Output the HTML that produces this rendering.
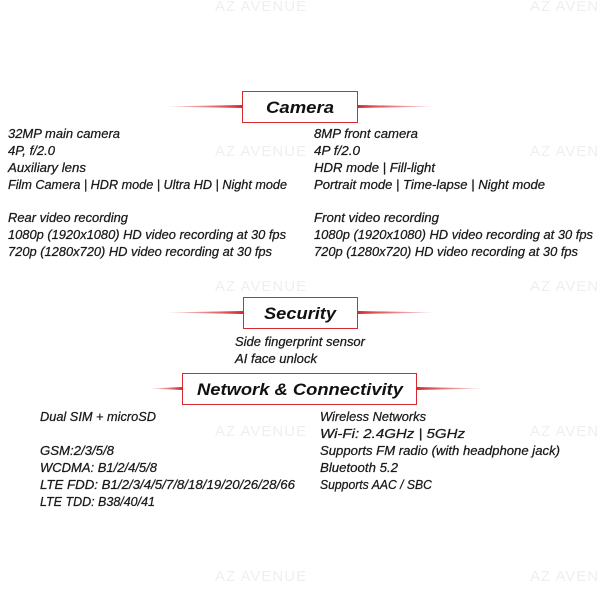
<!DOCTYPE html>
<html><head><meta charset="utf-8"><style>
html,body{margin:0;padding:0;background:#fff;width:600px;height:600px;overflow:hidden}
svg{display:block}
text{font-family:"Liberation Sans",sans-serif;font-style:italic;fill:#1a1a1a}
.t{font-size:12.5px;stroke:#1a1a1a;stroke-width:0.25}
.h{font-weight:bold;fill:#111}
.w text{font-size:15px;fill:#efefef;font-style:normal;letter-spacing:1px}
</style></head><body>
<svg width="600" height="600" viewBox="0 0 600 600" xmlns="http://www.w3.org/2000/svg">
<defs>
<linearGradient id="gl" x1="0" x2="1"><stop offset="0" stop-color="#d42a30" stop-opacity="0.1"/><stop offset="1" stop-color="#d42a30"/></linearGradient>
<linearGradient id="gr" x1="0" x2="1"><stop offset="0" stop-color="#d42a30"/><stop offset="1" stop-color="#d42a30" stop-opacity="0.1"/></linearGradient>
</defs>
<g class="w">
<text x="215" y="11">AZ AVENUE</text><text x="530" y="11">AZ AVENUE</text>
<text x="215" y="156">AZ AVENUE</text><text x="530" y="156">AZ AVENUE</text>
<text x="215" y="291">AZ AVENUE</text><text x="530" y="291">AZ AVENUE</text>
<text x="215" y="436">AZ AVENUE</text><text x="530" y="436">AZ AVENUE</text>
<text x="215" y="581">AZ AVENUE</text><text x="530" y="581">AZ AVENUE</text>
</g>
<!-- Camera -->
<polygon points="163,106.5 242,105 242,108" fill="url(#gl)"/>
<polygon points="358,105 437,106.5 358,108" fill="url(#gr)"/>
<rect x="242.5" y="91.5" width="115" height="31" fill="#fff" stroke="#d42a30" stroke-width="1"/>
<text class="h" x="266" y="113" font-size="17" textLength="68" lengthAdjust="spacingAndGlyphs">Camera</text>
<!-- Security -->
<polygon points="165,312.5 243,311 243,314" fill="url(#gl)"/>
<polygon points="358,311 437,312.5 358,314" fill="url(#gr)"/>
<rect x="243.5" y="297.5" width="114" height="31" fill="#fff" stroke="#d42a30" stroke-width="1"/>
<text class="h" x="264" y="319" font-size="17" textLength="72" lengthAdjust="spacingAndGlyphs">Security</text>
<!-- Network -->
<polygon points="150,388.5 182,387 182,390" fill="url(#gl)"/>
<polygon points="417,387 485,388.5 417,390" fill="url(#gr)"/>
<rect x="182.5" y="373.5" width="234" height="31" fill="#fff" stroke="#d42a30" stroke-width="1"/>
<text class="h" x="197" y="395" font-size="17" textLength="206" lengthAdjust="spacingAndGlyphs">Network &amp; Connectivity</text>
<g class="t">
<text x="8" y="138" textLength="112" lengthAdjust="spacingAndGlyphs">32MP main camera</text>
<text x="8" y="155" textLength="47" lengthAdjust="spacingAndGlyphs">4P, f/2.0</text>
<text x="8" y="172" textLength="78" lengthAdjust="spacingAndGlyphs">Auxiliary lens</text>
<text x="8" y="189" textLength="279" lengthAdjust="spacingAndGlyphs">Film Camera | HDR mode | Ultra HD | Night mode</text>
<text x="8" y="222" textLength="120" lengthAdjust="spacingAndGlyphs">Rear video recording</text>
<text x="8" y="239" textLength="278" lengthAdjust="spacingAndGlyphs">1080p (1920x1080) HD video recording at 30 fps</text>
<text x="8" y="256" textLength="264" lengthAdjust="spacingAndGlyphs">720p (1280x720) HD video recording at 30 fps</text>
<text x="314" y="138" textLength="104" lengthAdjust="spacingAndGlyphs">8MP front camera</text>
<text x="314" y="155" textLength="46" lengthAdjust="spacingAndGlyphs">4P f/2.0</text>
<text x="314" y="172" textLength="121" lengthAdjust="spacingAndGlyphs">HDR mode | Fill-light</text>
<text x="314" y="189" textLength="231" lengthAdjust="spacingAndGlyphs">Portrait mode | Time-lapse | Night mode</text>
<text x="314" y="222" textLength="125" lengthAdjust="spacingAndGlyphs">Front video recording</text>
<text x="314" y="239" textLength="279" lengthAdjust="spacingAndGlyphs">1080p (1920x1080) HD video recording at 30 fps</text>
<text x="314" y="256" textLength="264" lengthAdjust="spacingAndGlyphs">720p (1280x720) HD video recording at 30 fps</text>
<text x="235" y="346" textLength="130" lengthAdjust="spacingAndGlyphs">Side fingerprint sensor</text>
<text x="235" y="363" textLength="82" lengthAdjust="spacingAndGlyphs">AI face unlock</text>
<text x="40" y="421" textLength="116" lengthAdjust="spacingAndGlyphs">Dual SIM + microSD</text>
<text x="40" y="455" textLength="74" lengthAdjust="spacingAndGlyphs">GSM:2/3/5/8</text>
<text x="40" y="472" textLength="117" lengthAdjust="spacingAndGlyphs">WCDMA: B1/2/4/5/8</text>
<text x="40" y="489" textLength="255" lengthAdjust="spacingAndGlyphs">LTE FDD: B1/2/3/4/5/7/8/18/19/20/26/28/66</text>
<text x="40" y="506" textLength="115" lengthAdjust="spacingAndGlyphs">LTE TDD: B38/40/41</text>
<text x="320" y="421" textLength="106" lengthAdjust="spacingAndGlyphs">Wireless Networks</text>
<text x="320" y="438" textLength="145" lengthAdjust="spacingAndGlyphs">Wi-Fi: 2.4GHz | 5GHz</text>
<text x="320" y="455" textLength="240" lengthAdjust="spacingAndGlyphs">Supports FM radio (with headphone jack)</text>
<text x="320" y="472" textLength="78" lengthAdjust="spacingAndGlyphs">Bluetooth 5.2</text>
<text x="320" y="489" textLength="112" lengthAdjust="spacingAndGlyphs">Supports AAC / SBC</text>
</g>
</svg>
</body></html>
